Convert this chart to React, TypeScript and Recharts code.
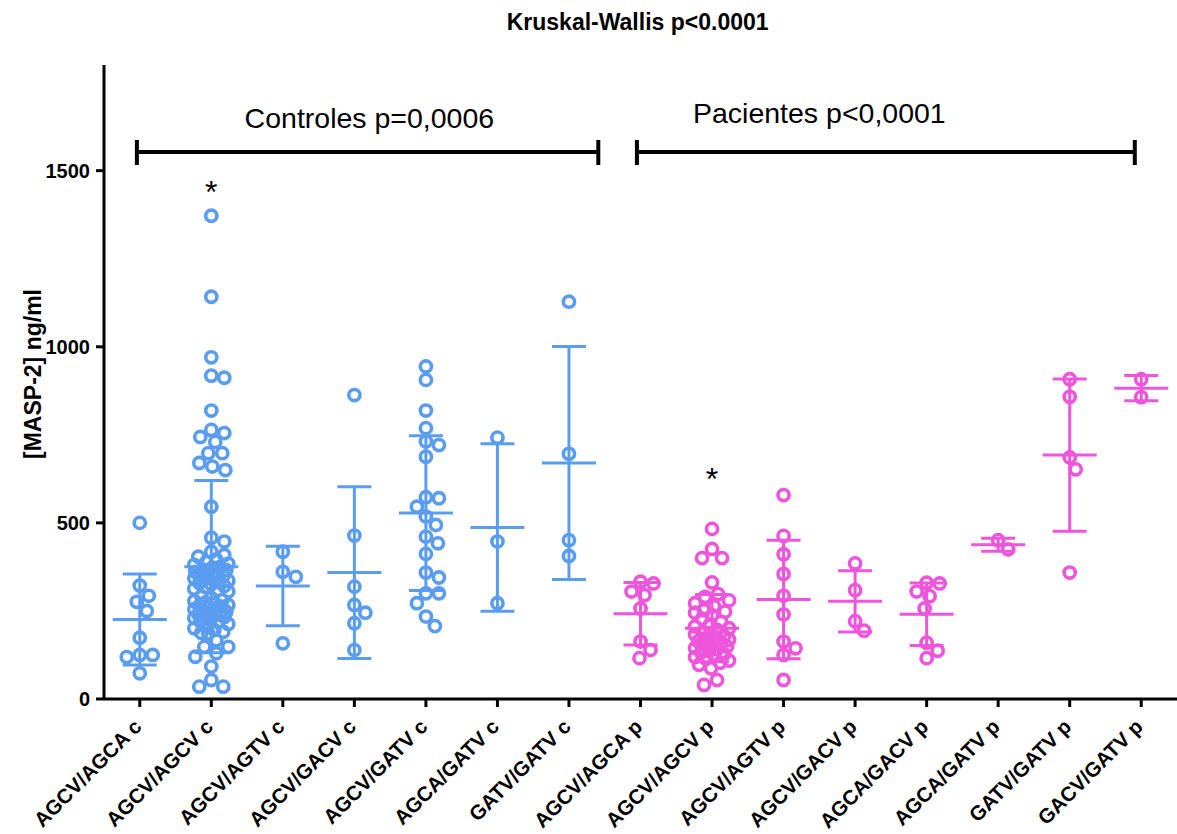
import React from 'react'
import {
  ScatterChart,
  Scatter,
  XAxis,
  YAxis,
  ErrorBar,
  ReferenceLine,
  ReferenceDot,
} from 'recharts'

const categories = [
  'AGCV/AGCA c', 'AGCV/AGCV c', 'AGCV/AGTV c', 'AGCV/GACV c', 'AGCV/GATV c',
  'AGCA/GATV c', 'GATV/GATV c', 'AGCV/AGCA p', 'AGCV/AGCV p', 'AGCV/AGTV p',
  'AGCV/GACV p', 'AGCA/GACV p', 'AGCA/GATV p', 'GATV/GATV p', 'GACV/GATV p',
]

// MASP-2 values (ng/ml)
const agcvAgcaC = [500, 322, 293, 276, 250, 174, 125, 125, 119, 73]
const agcvAgcvC = [
  1372, 1142, 970, 918, 912, 819, 764, 755, 744, 730, 698, 698, 670, 660, 650,
  546, 458, 447, 418, 409, 404,
  396, 389, 384, 381, 375, 373, 368, 366, 361, 359, 356, 352, 350, 347, 343,
  341, 336, 333, 329, 326, 321, 318, 313, 309, 305,
  292, 287, 281, 278, 274, 270, 267, 264, 262, 259, 255, 253, 250, 248, 245,
  243, 241, 238, 235, 233, 230, 226, 221, 218, 213, 206, 201, 196, 191, 188,
  186, 167, 148, 148, 130, 120, 92, 54, 35, 35,
]
const agcvAgtvC = [418, 361, 347, 158]
const agcvGacvC = [863, 464, 319, 267, 245, 215, 139]
const agcvGatvC = [
  944, 906, 819, 769, 731, 721, 688, 573, 570, 546, 518, 494, 461, 442, 412,
  359, 345, 300, 300, 272, 234, 207,
]
const agcaGatvC = [742, 447, 272]
const gatvGatvC = [1128, 696, 451, 406]
const agcvAgcaP = [333, 328, 305, 295, 257, 163, 139, 116]
const agcvAgcvP = [
  483, 426, 400, 400, 331, 298, 290, 248, 245,
  280, 272, 263, 252, 238, 228, 219, 212, 206, 201, 196, 191, 187, 183, 179,
  175, 171, 168, 164, 160, 157, 153, 149, 145, 141, 137, 132, 128, 124, 119,
  114, 109, 103, 97, 87, 54, 40,
]
const agcvAgtvP = [579, 463, 411, 355, 293, 240, 163, 144, 125, 54]
const agcvGacvP = [385, 309, 221, 194]
const agcaGacvP = [330, 328, 305, 292, 257, 160, 137, 116]
const agcaGatvP = [451, 425]
const gatvGatvP = [908, 858, 686, 652, 359]
const gacvGatvP = [908, 857]

const groups = [
  agcvAgcaC, agcvAgcvC, agcvAgtvC, agcvGacvC, agcvGatvC, agcaGatvC, gatvGatvC,
  agcvAgcaP, agcvAgcvP, agcvAgtvP, agcvGacvP, agcaGacvP, agcaGatvP, gatvGatvP, gacvGatvP,
]
const controlCount = 7

const yTicks = [0, 500, 1000, 1500]

const BLUE = '#5a9df0'
const PINK = '#ee55dc'
const FONT = '"Liberation Sans", Arial, sans-serif'

const W = 1177
const H = 834
const TOP = 65
const X_AXIS_H = 135
const Y_AXIS_W = 104
const Y_MAX = 1800

const pxPerCat = (W - Y_AXIS_W) / categories.length
const pxPerVal = (H - TOP - X_AXIS_H) / Y_MAX

// simple beeswarm, offsets in pixels, turned into category units
const MIN_DIST = 13
const MAX_OFF = 17
function swarm(values: number[]): number[] {
  const order = values.map((_, i) => i).sort((a, b) => values[b] - values[a])
  const cands = [0]
  for (let d = 1; d <= MAX_OFF; d++) cands.push(d, -d)
  const placed: { x: number; y: number }[] = []
  const offs = new Array(values.length).fill(0)
  for (const i of order) {
    const y = values[i] * pxPerVal
    let best = 0
    let bestScore = -1
    for (const c of cands) {
      let minD = Infinity
      for (const p of placed) {
        const dd = Math.hypot(p.x - c, p.y - y)
        if (dd < minD) minD = dd
      }
      if (minD >= MIN_DIST) {
        best = c
        break
      }
      if (minD > bestScore) {
        bestScore = minD
        best = c
      }
    }
    placed.push({ x: best, y })
    offs[i] = best
  }
  return offs
}

const pointsFor = (from: number, to: number) =>
  groups.slice(from, to).flatMap((vals, k) => {
    const offs = swarm(vals)
    return vals.map((v, j) => ({ x: from + k + offs[j] / pxPerCat, y: v }))
  })

const statsFor = (from: number, to: number) =>
  groups.slice(from, to).map((vals, k) => {
    const n = vals.length
    const mean = vals.reduce((s, v) => s + v, 0) / n
    const sd = Math.sqrt(vals.reduce((s, v) => s + (v - mean) ** 2, 0) / (n - 1))
    return { x: from + k, y: mean, sd }
  })

const controlPoints = pointsFor(0, controlCount)
const patientPoints = pointsFor(controlCount, groups.length)
const controlStats = statsFor(0, controlCount)
const patientStats = statsFor(controlCount, groups.length)

const ring = (color: string) => (p: any) => (
  <circle cx={p.cx} cy={p.cy} r={5.6} fill="none" stroke={color} strokeWidth={3.6} />
)
const meanBar = (color: string) => (p: any) => (
  <line x1={p.cx - 27} x2={p.cx + 27} y1={p.cy} y2={p.cy} stroke={color} strokeWidth={3} />
)

const XTick = (props: any) => {
  const { x, y, payload } = props
  const ax = x + 3
  const ay = y + 19
  return (
    <text
      x={ax}
      y={ay}
      textAnchor="end"
      transform={`rotate(-45 ${ax} ${ay})`}
      fontFamily={FONT}
      fontWeight="bold"
      fontSize={20.5}
      fill="#000"
    >
      {categories[payload.value]}
    </text>
  )
}

const textAt = (label: string, size: number, bold = false) => (p: any) => (
  <text
    x={p.cx}
    y={p.cy}
    textAnchor="middle"
    fontFamily={FONT}
    fontSize={size}
    fontWeight={bold ? 'bold' : 'normal'}
    fill="#000"
  >
    {label}
  </text>
)

const star = (p: any) => (
  <text x={p.cx} y={p.cy} textAnchor="middle" fontFamily={FONT} fontSize={32} fill="#000">
    *
  </text>
)

const brackets = [
  { from: -0.04, to: 6.41 },
  { from: 6.95, to: 13.91 },
]
const BRACKET_Y = 1553
const CAP_TOP = 1587
const CAP_BOTTOM = 1516

export default function App() {
  return (
    <div style={{ width: W, height: H }}>
      <style>{'body{margin:0}'}</style>
      <ScatterChart width={W} height={H} margin={{ top: TOP, right: 0, bottom: 0, left: 0 }}>
        <XAxis
          type="number"
          dataKey="x"
          domain={[-0.5, categories.length - 0.5]}
          ticks={categories.map((_, i) => i)}
          interval={0}
          height={X_AXIS_H}
          allowDataOverflow
          tick={(p: any) => <XTick {...p} />}
          tickSize={8}
          axisLine={{ stroke: '#000', strokeWidth: 3 }}
          tickLine={{ stroke: '#000', strokeWidth: 3 }}
        />
        <YAxis
          type="number"
          dataKey="y"
          domain={[0, Y_MAX]}
          ticks={yTicks}
          width={Y_AXIS_W}
          allowDataOverflow
          tickSize={8}
          tickMargin={6}
          tick={{ fill: '#000', fontSize: 20, fontWeight: 'bold', fontFamily: FONT }}
          axisLine={{ stroke: '#000', strokeWidth: 3 }}
          tickLine={{ stroke: '#000', strokeWidth: 3 }}
          label={{
            content: (p: any) => {
              const vb = p.viewBox
              const lx = vb.x + 41
              const ly = vb.y + vb.height / 2 - 8
              return (
                <text
                  x={lx}
                  y={ly}
                  transform={`rotate(-90 ${lx} ${ly})`}
                  textAnchor="middle"
                  fontFamily={FONT}
                  fontWeight="bold"
                  fontSize={23}
                  fill="#000"
                >
                  [MASP-2] ng/ml
                </text>
              )
            },
          }}
        />

        <Scatter data={controlStats} shape={meanBar(BLUE)} isAnimationActive={false}>
          <ErrorBar dataKey="sd" direction="y" width={17} stroke={BLUE} strokeWidth={3} isAnimationActive={false} />
        </Scatter>
        <Scatter data={patientStats} shape={meanBar(PINK)} isAnimationActive={false}>
          <ErrorBar dataKey="sd" direction="y" width={17} stroke={PINK} strokeWidth={3} isAnimationActive={false} />
        </Scatter>
        <Scatter data={controlPoints} shape={ring(BLUE)} isAnimationActive={false} />
        <Scatter data={patientPoints} shape={ring(PINK)} isAnimationActive={false} />

        {brackets.map((b, i) => (
          <ReferenceLine
            key={'h' + i}
            segment={[{ x: b.from, y: BRACKET_Y }, { x: b.to, y: BRACKET_Y }]}
            stroke="#000"
            strokeWidth={4}
            ifOverflow="visible"
          />
        ))}
        {brackets.flatMap((b, i) =>
          [b.from, b.to].map((x, j) => (
            <ReferenceLine
              key={'c' + i + j}
              segment={[{ x, y: CAP_TOP }, { x, y: CAP_BOTTOM }]}
              stroke="#000"
              strokeWidth={4}
              ifOverflow="visible"
            />
          ))
        )}

        <ReferenceDot x={6.96} y={1899} ifOverflow="visible" shape={textAt('Kruskal-Wallis p<0.0001', 23, true)} />
        <ReferenceDot x={3.21} y={1621} ifOverflow="visible" shape={textAt('Controles p=0,0006', 28.5)} />
        <ReferenceDot x={9.5} y={1635} ifOverflow="visible" shape={textAt('Pacientes p<0,0001', 28.5)} />
        <ReferenceDot x={1} y={1408} ifOverflow="visible" shape={star} />
        <ReferenceDot x={8} y={593} ifOverflow="visible" shape={star} />
      </ScatterChart>
    </div>
  )
}
